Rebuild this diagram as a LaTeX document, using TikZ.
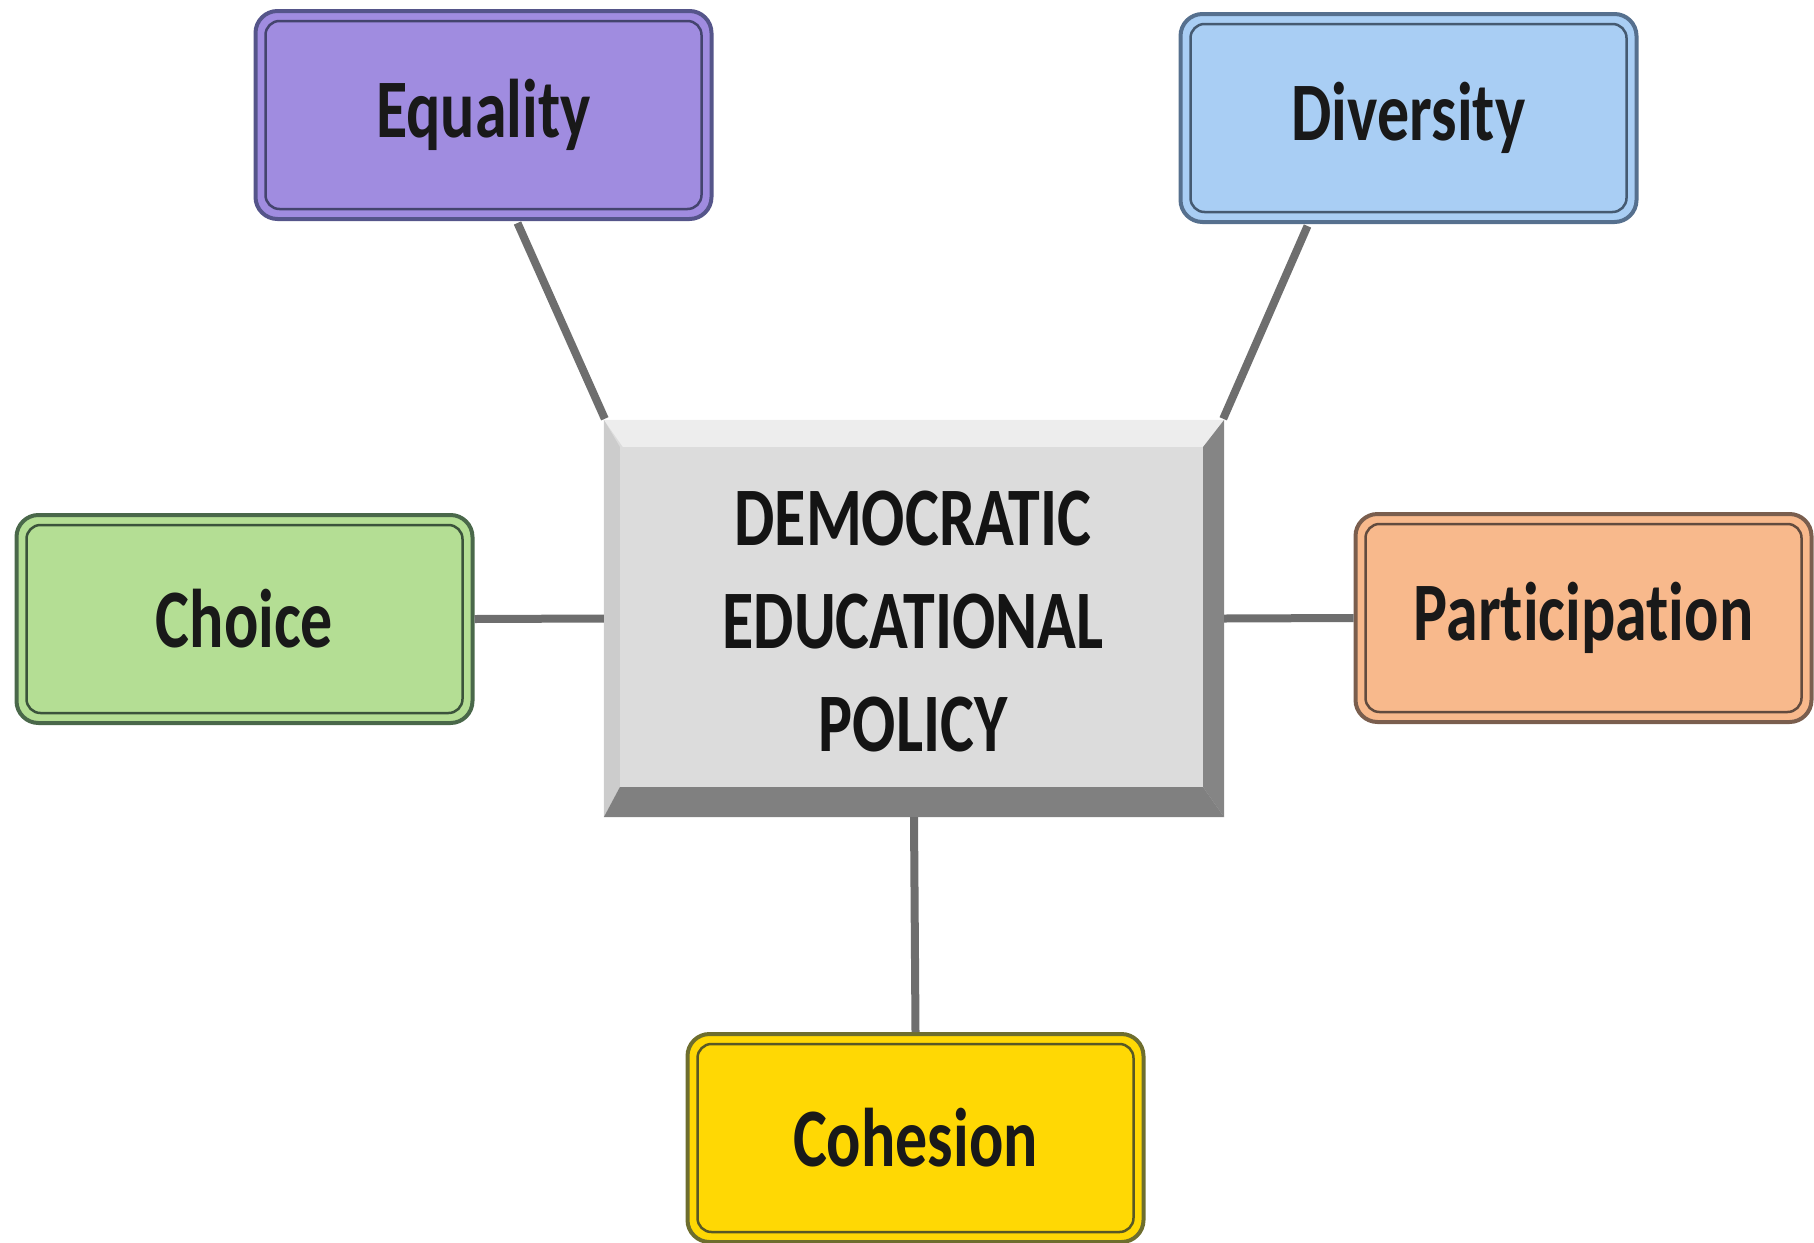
\documentclass[tikz,border=0pt]{standalone}
\usepackage{fontspec}
\usetikzlibrary{calc}
\newfontfamily\cf[Ligatures={NoCommon}]{Carlito}
\definecolor{eqfill}{HTML}{A08CE0}\definecolor{eqline}{HTML}{55558A}
\definecolor{dvfill}{HTML}{A9CEF4}\definecolor{dvline}{HTML}{56708E}
\definecolor{chfill}{HTML}{B4DE94}\definecolor{chline}{HTML}{4A684A}
\definecolor{pafill}{HTML}{F8B98C}\definecolor{paline}{HTML}{7A5E4E}
\definecolor{cofill}{HTML}{FFD804}\definecolor{coline}{HTML}{6E6E2E}
\definecolor{face}{HTML}{DCDCDC}
\definecolor{conn}{HTML}{6E6E6E}
\tikzset{
  topic/.style={draw=#1line, fill=#1fill, line width=4pt, rounded corners=22pt,
    minimum width=456pt, minimum height=208pt, inner sep=0pt,
    text=black!90, font=\cf\bfseries\fontsize{64}{70}\selectfont,
    path picture={\draw[#1line!80!black, line width=2.5pt, rounded corners=14pt]
      ([shift={(10pt,-10pt)}]path picture bounding box.north west) rectangle
      ([shift={(-10pt,10pt)}]path picture bounding box.south east);}},
  link/.style={draw=conn, line width=8pt}
}
\newcommand{\tall}[1]{\scalebox{1}[1.3]{#1}}
\begin{document}
\begin{tikzpicture}[x=1pt,y=-1pt]
\useasboundingbox (0,0) rectangle (1814,1242);
% central box
\node[minimum width=620pt, minimum height=397pt, inner sep=0pt] (cen) at (914,618.5) {};
\fill[face] (cen.north west) rectangle (cen.south east);
\fill[white!93!black] (cen.north west) -- (cen.north east) -- ($(cen.north east)+(-21,27)$) -- ($(cen.north west)+(19,27)$) -- cycle;
\fill[white!80!black] (cen.north west) -- ($(cen.north west)+(16,27)$) -- ($(cen.south west)+(16,-30)$) -- (cen.south west) -- cycle;
\fill[black!48] (cen.north east) -- ($(cen.north east)+(-21,27)$) -- ($(cen.south east)+(-21,-30)$) -- (cen.south east) -- cycle;
\fill[black!50] (cen.south west) -- ($(cen.south west)+(16,-30)$) -- ($(cen.south east)+(-21,-30)$) -- (cen.south east) -- cycle;
\node[font=\cf\bfseries\fontsize{64}{79}\selectfont, align=center, text=black!92] (cent) at (913,628)
  {\tall{\begin{tabular}{@{}c@{}}DEMOCRATIC\\EDUCATIONAL\\POLICY\end{tabular}}};
% topics
\node[topic=eq] (eq) at (483.5,115) {\tall{Equality}};
\node[topic=dv] (dv) at (1408.5,118) {\tall{Diversity}};
\node[topic=ch] (ch) at (244.5,619) {\tall{Choice}};
\node[topic=pa] (pa) at (1583.5,618) {\tall{Participation}};
\node[topic=co] (co) at (915.5,1138) {\tall{Cohesion}};
% connectors
\draw[link] ($(eq.south)+(34,2)$) -- ($(cen.north west)+(1,-1)$);
\draw[link] ($(dv.south)+(-101,2)$) -- ($(cen.north east)+(-1,-1)$);
\draw[link] (ch.east) -- (cen.west);
\draw[link] (cen.east) -- (pa.west);
\draw[link] (cen.south) -- (co.north);
\end{tikzpicture}
\end{document}
